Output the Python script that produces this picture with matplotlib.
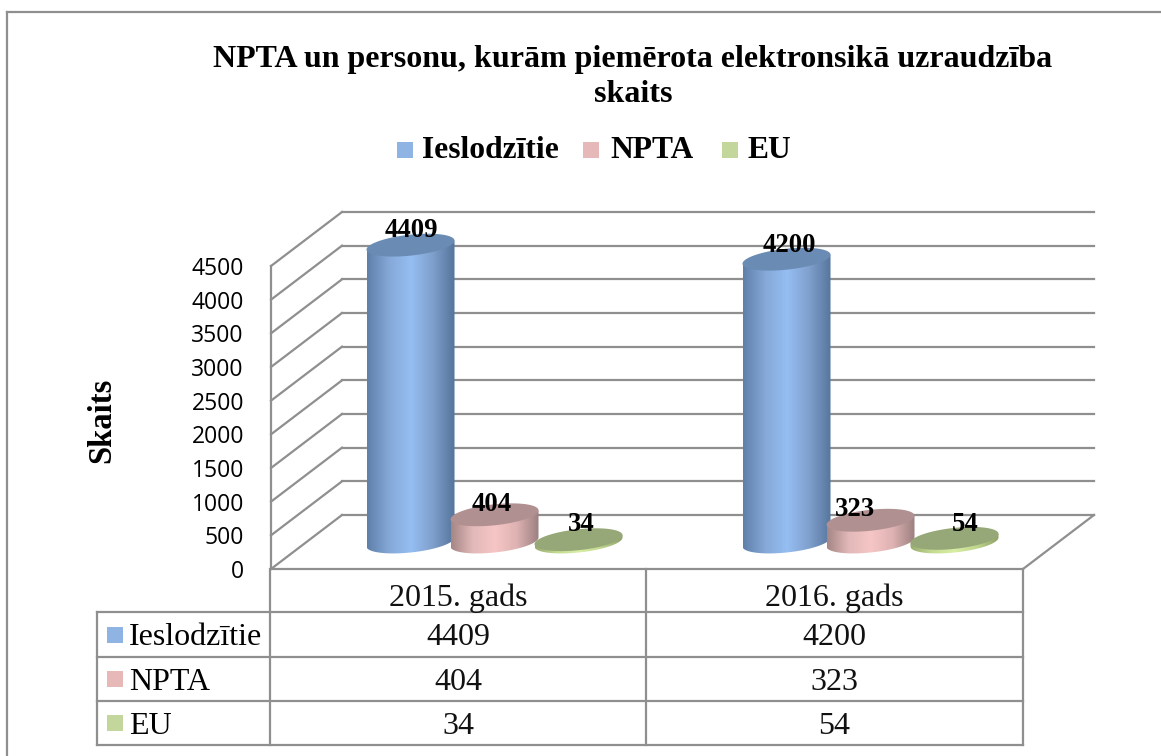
import numpy as np
import matplotlib
matplotlib.use('Agg')
from matplotlib import pyplot as plt
from matplotlib.colors import LinearSegmentedColormap
from matplotlib.patches import Polygon, Rectangle

years = ['2015. gads', '2016. gads']
series_names = ['Ieslodzītie', 'NPTA', 'EU']
ieslodzitie = [4409, 4200]
npta = [404, 323]
eu = [34, 54]
y_ticks = [0, 500, 1000, 1500, 2000, 2500, 3000, 3500, 4000, 4500]

title = 'NPTA un personu, kurām piemērota elektronsikā uzraudzība\nskaits'
series_values = [ieslodzitie, npta, eu]
legend_colors = ['#8fb4e3', '#e6b8b7', '#c3d69b']
side_colors = [
    ['#5f80aa', '#85a8d8', '#95bef2', '#7f9fcc', '#55749c'],
    ['#a58686', '#e3b9b9', '#f6c6c6', '#deb2b2', '#9c8080'],
    ['#98ab70', '#c5dc90', '#d8eea5', '#c0d68c', '#8fa268'],
]
top_colors = ['#6a8bb3', '#b09090', '#96a878']
line_color = '#8f8f8f'
serif = 'Liberation Serif'

W, H = 1161, 756
FRONT_L, FRONT_R, FRONT_B, FRONT_T = 271, 1023, 569, 266
DEPTH_X, DEPTH_Y = 71, 54

fig = plt.figure(figsize=(W / 100, H / 100), dpi=100)

# page layer in pixels: frame and the data table
bg = fig.add_axes([0, 0, 1, 1], zorder=0)
bg.set_xlim(0, W)
bg.set_ylim(H, 0)
bg.axis('off')


def seg(x0, y0, x1, y1, lw=1.6):
    bg.plot([x0, x1], [y0, y1], color=line_color, lw=lw, solid_capstyle='projecting')


seg(7, 12, W, 12, 1.6)
seg(7, 12, 7, H, 1.6)

row_y = [612, 657, 701, 745]
for y in row_y:
    seg(97, y, FRONT_R, y)
seg(97, row_y[0], 97, row_y[-1])
seg(FRONT_L - 1, FRONT_B, FRONT_L - 1, row_y[-1])
seg(646, FRONT_B, 646, row_y[-1])
seg(FRONT_R, FRONT_B, FRONT_R, row_y[-1])

for k, name in enumerate(series_names):
    yc = (row_y[k] + row_y[k + 1]) / 2
    bg.add_patch(Rectangle((107, yc - 8), 16, 16, color=legend_colors[k], lw=0))
    bg.text(129, yc + 3, name, family=serif, fontsize=23, va='center', ha='left', color='black')
    for i in range(2):
        bg.text([458, 834][i], yc + 3, str(series_values[k][i]), family=serif, fontsize=23,
                va='center', ha='center', color='#111111')
for i, year in enumerate(years):
    bg.text([458, 834][i], 598, year, family=serif, fontsize=23, va='center', ha='center', color='#111111')

bg.text(633, 77, title, family=serif, fontsize=23, fontweight='bold', ha='center', va='center',
        linespacing=1.24)
bg.text(102, 420, 'Skaits', family=serif, fontsize=23.5, fontweight='bold', rotation=90,
        ha='center', va='center')

legend_x = [[397, 422], [583, 610], [722, 748]]
for k, name in enumerate(series_names):
    bg.add_patch(Rectangle((legend_x[k][0], 142), 16, 16, color=legend_colors[k], lw=0))
    bg.text(legend_x[k][1], 151, name, family=serif, fontsize=22.7, fontweight='bold', va='center', ha='left')

# chart axes sit on the front plane of the 3D box
ax = fig.add_axes([FRONT_L / W, 1 - FRONT_B / H, (FRONT_R - FRONT_L) / W, (FRONT_B - FRONT_T) / H], zorder=1)
ax.patch.set_alpha(0)
ax.set_xlim(0, len(years))
ax.set_ylim(0, y_ticks[-1])
px_x = (FRONT_R - FRONT_L) / len(years)
px_y = (FRONT_B - FRONT_T) / y_ticks[-1]
dx = DEPTH_X / px_x
dy = DEPTH_Y / px_y

for s in ['top', 'right', 'bottom']:
    ax.spines[s].set_visible(False)
ax.spines['left'].set_color(line_color)
ax.spines['left'].set_linewidth(1.6)
ax.set_xticks([])
ax.set_yticks(y_ticks)
ax.set_yticklabels([str(t) for t in y_ticks], family='Open Sans', fontsize=16.5)
ax.tick_params(axis='y', length=0, pad=19.5)

for t in y_ticks:
    ax.plot([0, dx], [t, t + dy], color=line_color, lw=1.6, clip_on=False, zorder=1)
    ax.plot([dx, len(years) + dx], [t + dy, t + dy], color=line_color, lw=1.6, clip_on=False, zorder=1)
ax.plot([0, len(years)], [0, 0], color=line_color, lw=1.6, clip_on=False, zorder=1)
ax.plot([len(years), len(years) + dx], [0, dy], color=line_color, lw=1.6, clip_on=False, zorder=1)

# cylinders, painted left to right so each one overlaps the previous
BAR_A = 44
BAR_B = 10.5
SHEAR = 4.5
STEP = 84
t_all = np.linspace(0, 2 * np.pi, 120)
t_low = np.linspace(np.pi, 2 * np.pi, 60)

# the labels do not sit quite centred in the original (pixels, by series then year)
label_nudge = [[(-1, -4), (1, -3)], [(-5, 1), (-18, 0)], [(1, -4), (9, -3)]]


def arc(cx, val, t):
    # ellipse lying on the cylinder end, tilted a bit up to the right
    xs = cx + BAR_A * np.cos(t) / px_x
    ys = val + (BAR_B * np.sin(t) + SHEAR * np.cos(t)) / px_y
    return np.column_stack([xs, ys])


def cylinder(cx, val, k, z):
    cmap = LinearSegmentedColormap.from_list('side', side_colors[k])
    base = arc(cx, dy / 2, t_low)
    top = arc(cx, dy / 2 + val, np.array([0.0, np.pi]))
    side = Polygon(np.vstack([base, top]), closed=True, transform=ax.transData, fc='none', ec='none',
                   clip_on=False)
    ax.add_patch(side)
    im = ax.imshow(np.linspace(0, 1, 200).reshape(1, -1), cmap=cmap, aspect='auto',
                   extent=[cx - BAR_A / px_x, cx + BAR_A / px_x,
                           dy / 2 - 20 / px_y, dy / 2 + val + 20 / px_y],
                   zorder=z)
    im.set_clip_box(fig.bbox)
    im.set_clip_path(side)
    ax.add_patch(Polygon(arc(cx, dy / 2 + val, t_all), closed=True, fc=top_colors[k], ec='none',
                         zorder=z + 0.1, clip_on=False))


for i in range(len(years)):
    for k in range(len(series_names)):
        cx = i + 0.5 + dx / 2 + (k - 1) * STEP / px_x
        val = series_values[k][i]
        cylinder(cx, val, k, 3 + i * 3 + k)
        nx, ny = label_nudge[k][i]
        ax.text(cx + (2 + nx) / px_x, val + dy / 2 + (11 - ny) / px_y, str(val), family=serif, fontsize=19.3,
                fontweight='bold', ha='center', va='center', zorder=20, clip_on=False)

# imshow resets the limits
ax.set_xlim(0, len(years))
ax.set_ylim(0, y_ticks[-1])

plt.savefig('out.png', dpi=100)
